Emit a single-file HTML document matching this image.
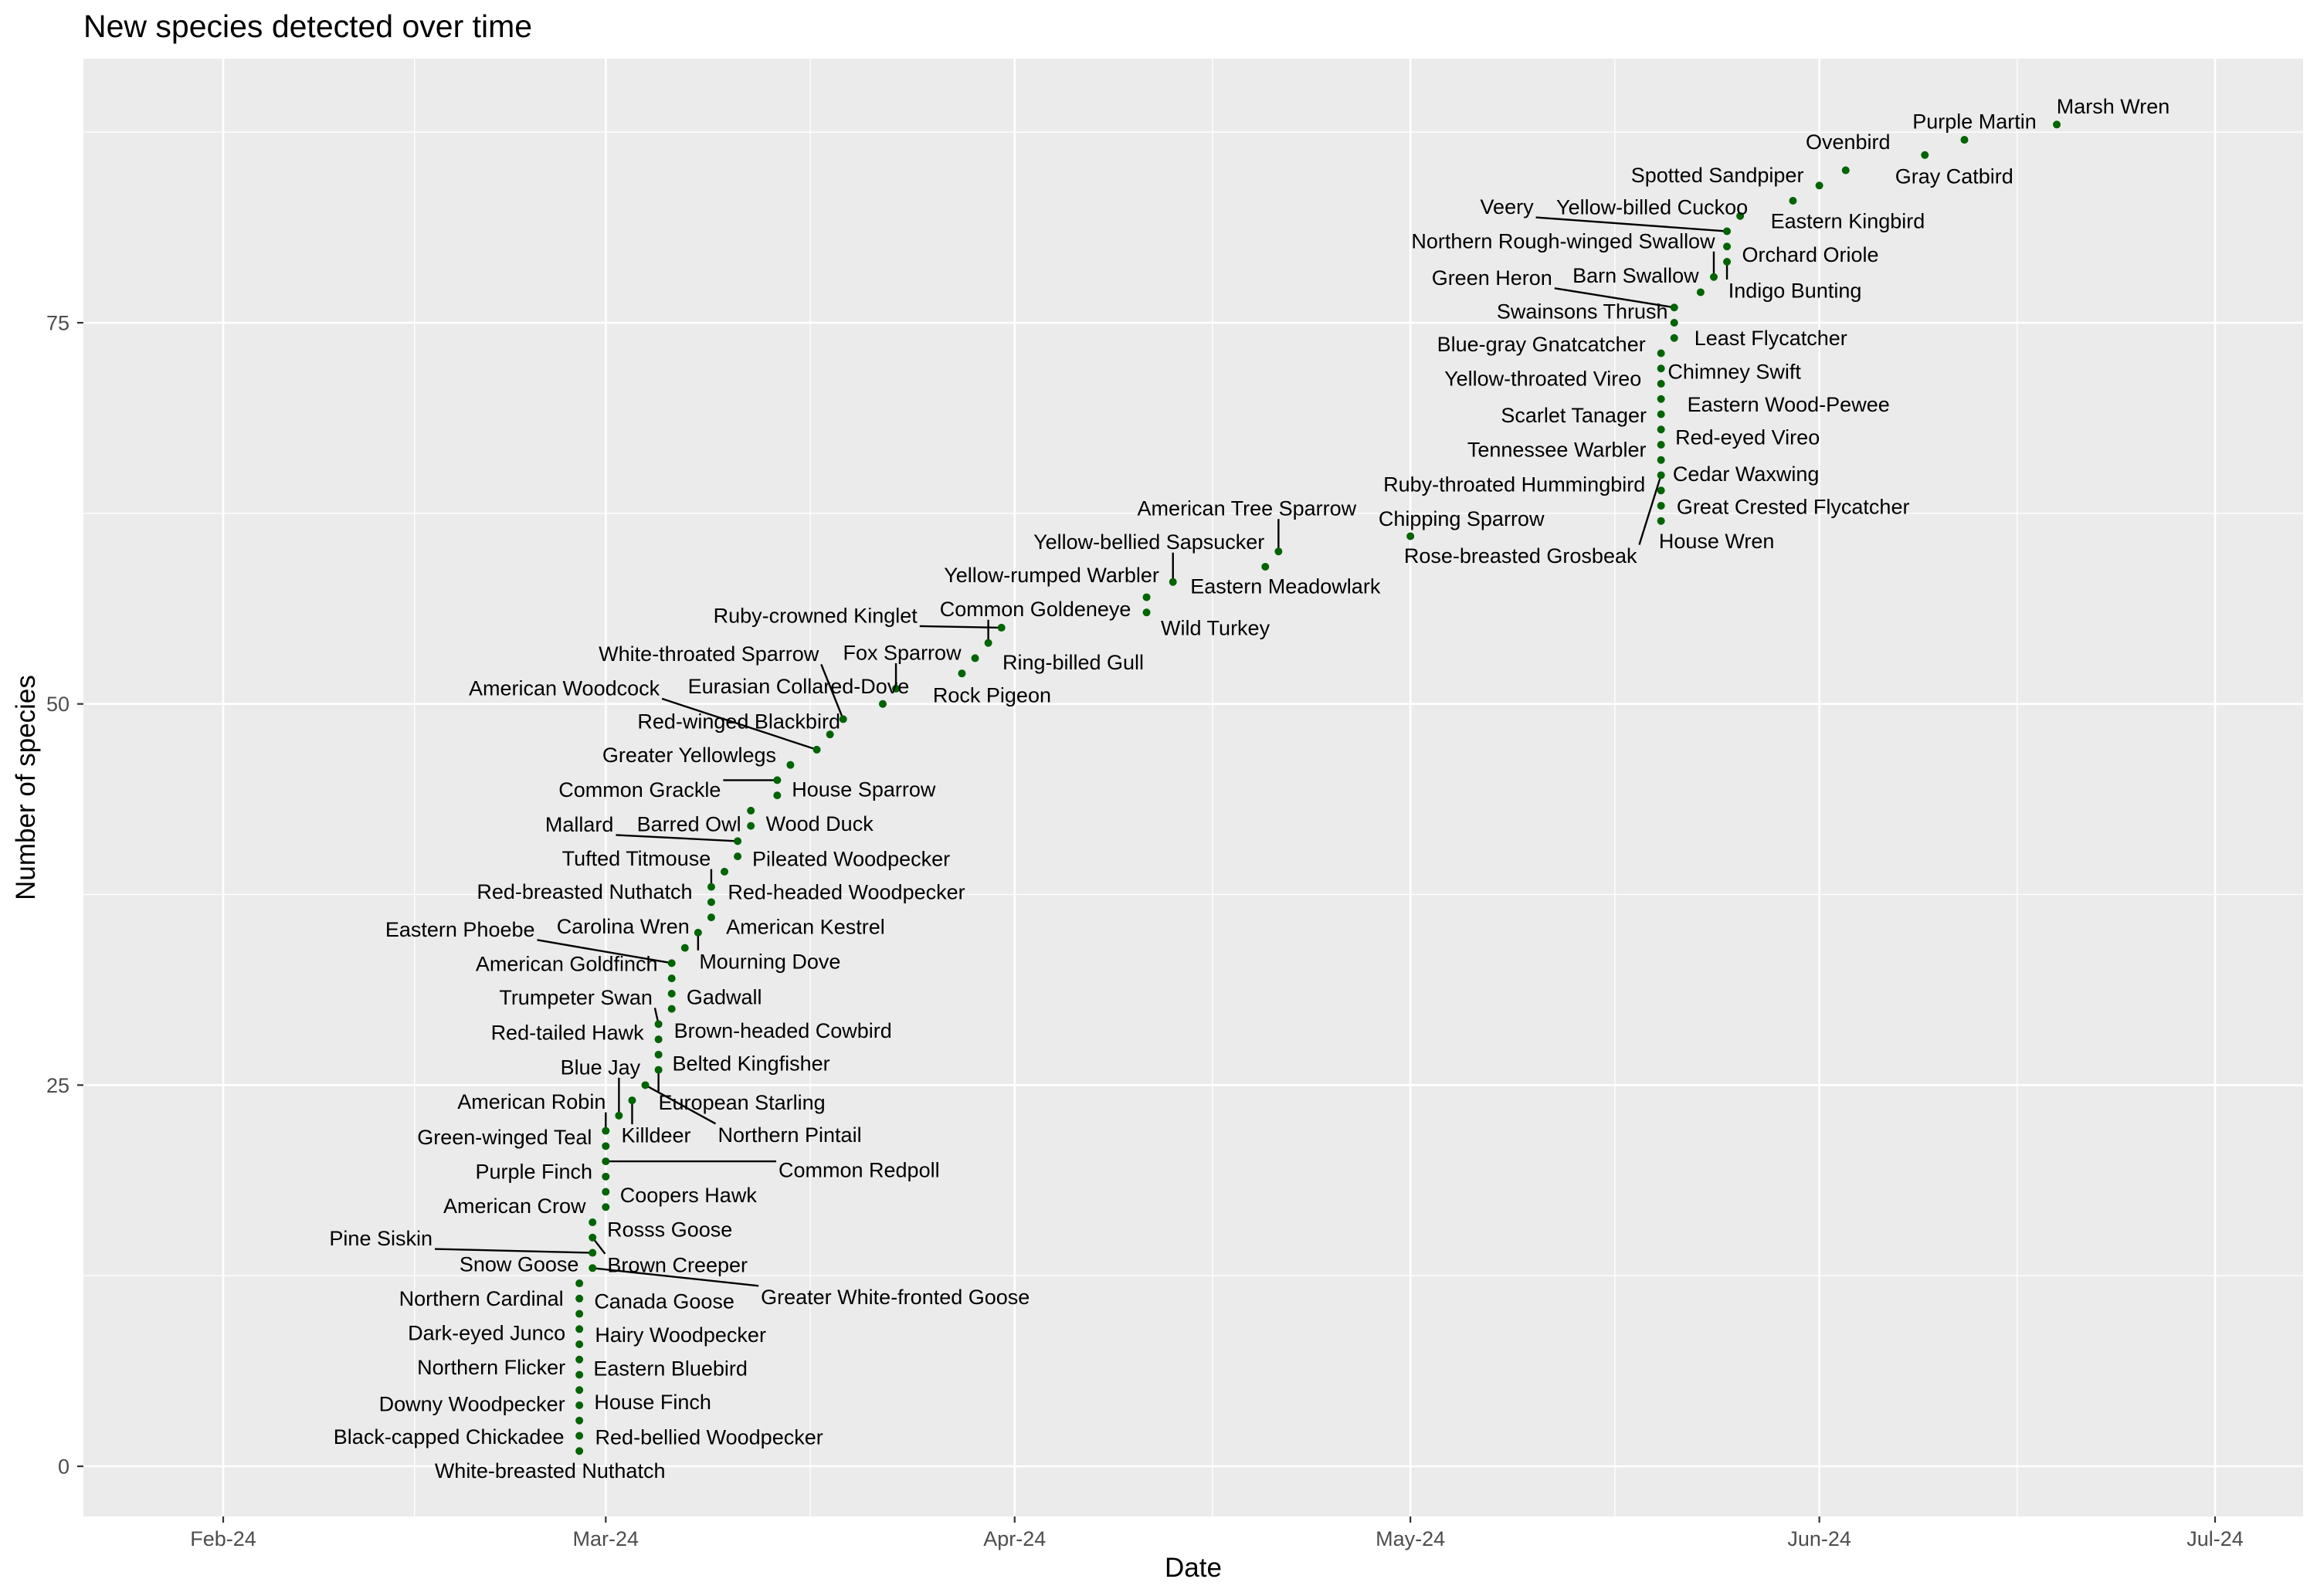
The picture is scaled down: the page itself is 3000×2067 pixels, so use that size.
<!DOCTYPE html>
<html><head><meta charset="utf-8">
<style>
html,body{margin:0;padding:0;background:#fff;}
svg{display:block;font-family:"Liberation Sans",Arial,sans-serif;}
</style></head>
<body>
<svg id="chart" width="3000" height="2067" viewBox="0 0 3000 2067" xmlns="http://www.w3.org/2000/svg">
<rect x="0" y="0" width="3000" height="2067" fill="#ffffff"/>
<text x="108" y="48" font-size="41" fill="#000">New species detected over time</text>
<rect x="108" y="76" width="2874" height="1888" fill="#EBEBEB"/>
<g id="grid"></g>
<g id="segs"></g>
<g id="pts"></g>
<g id="labs"></g>
<g id="axes"></g>
<text x="1545" y="2042" font-size="35" text-anchor="middle" fill="#000">Date</text>
<text transform="translate(45,1020) rotate(-90)" font-size="35" text-anchor="middle" fill="#000">Number of species</text>
</svg>
<script>
// ---- data ----
const species = ["White-breasted Nuthatch","Black-capped Chickadee","Red-bellied Woodpecker","Downy Woodpecker","House Finch","Northern Flicker","Eastern Bluebird","Dark-eyed Junco","Hairy Woodpecker","Northern Cardinal","Canada Goose","Snow Goose","Greater White-fronted Goose","Pine Siskin","Brown Creeper","Rosss Goose","American Crow","Coopers Hawk","Purple Finch","Common Redpoll","Green-winged Teal","American Robin","Blue Jay","Killdeer","Northern Pintail","European Starling","Belted Kingfisher","Red-tailed Hawk","Trumpeter Swan","Brown-headed Cowbird","Gadwall","American Goldfinch","Eastern Phoebe","Carolina Wren","Mourning Dove","American Kestrel","Red-breasted Nuthatch","Tufted Titmouse","Red-headed Woodpecker","Pileated Woodpecker","Mallard","Wood Duck","Barred Owl","House Sparrow","Common Grackle","Greater Yellowlegs","American Woodcock","Red-winged Blackbird","White-throated Sparrow","Eurasian Collared-Dove","Fox Sparrow","Rock Pigeon","Ring-billed Gull","Common Goldeneye","Ruby-crowned Kinglet","Wild Turkey","Yellow-rumped Warbler","Yellow-bellied Sapsucker","Eastern Meadowlark","American Tree Sparrow","Chipping Sparrow","House Wren","Great Crested Flycatcher","Ruby-throated Hummingbird","Rose-breasted Grosbeak","Cedar Waxwing","Tennessee Warbler","Red-eyed Vireo","Scarlet Tanager","Eastern Wood-Pewee","Yellow-throated Vireo","Chimney Swift","Blue-gray Gnatcatcher","Least Flycatcher","Swainsons Thrush","Green Heron","Barn Swallow","Northern Rough-winged Swallow","Indigo Bunting","Orchard Oriole","Veery","Yellow-billed Cuckoo","Eastern Kingbird","Spotted Sandpiper","Ovenbird","Gray Catbird","Purple Martin","Marsh Wren"];
const firstSeen = ["2024-02-28","2024-02-28","2024-02-28","2024-02-28","2024-02-28","2024-02-28","2024-02-28","2024-02-28","2024-02-28","2024-02-28","2024-02-28","2024-02-28","2024-02-29","2024-02-29","2024-02-29","2024-02-29","2024-03-01","2024-03-01","2024-03-01","2024-03-01","2024-03-01","2024-03-01","2024-03-02","2024-03-03","2024-03-04","2024-03-05","2024-03-05","2024-03-05","2024-03-05","2024-03-06","2024-03-06","2024-03-06","2024-03-06","2024-03-07","2024-03-08","2024-03-09","2024-03-09","2024-03-09","2024-03-10","2024-03-11","2024-03-11","2024-03-12","2024-03-12","2024-03-14","2024-03-14","2024-03-15","2024-03-17","2024-03-18","2024-03-19","2024-03-22","2024-03-23","2024-03-28","2024-03-29","2024-03-30","2024-03-31","2024-04-11","2024-04-11","2024-04-13","2024-04-20","2024-04-21","2024-05-01","2024-05-20","2024-05-20","2024-05-20","2024-05-20","2024-05-20","2024-05-20","2024-05-20","2024-05-20","2024-05-20","2024-05-20","2024-05-20","2024-05-20","2024-05-21","2024-05-21","2024-05-21","2024-05-23","2024-05-24","2024-05-25","2024-05-25","2024-05-25","2024-05-26","2024-05-30","2024-06-01","2024-06-03","2024-06-09","2024-06-12","2024-06-19"];
const speciesCount = [1,2,3,4,5,6,7,8,9,10,11,12,13,14,15,16,17,18,19,20,21,22,23,24,25,26,27,28,29,30,31,32,33,34,35,36,37,38,39,40,41,42,43,44,45,46,47,48,49,50,51,52,53,54,55,56,57,58,59,60,61,62,63,64,65,66,67,68,69,70,71,72,73,74,75,76,77,78,79,80,81,82,83,84,85,86,87,88];
const xTickLabels = ["Feb-24","Mar-24","Apr-24","May-24","Jun-24","Jul-24"];
const xTickDates = ["2024-02-01","2024-03-01","2024-04-01","2024-05-01","2024-06-01","2024-07-01"];
const yTickValues = [0,25,50,75];

// ---- layout (label offsets from point, px; s=1 draws a leader segment) ----
const labelLayout = [[-38,25,0],[-169,1,0],[168,21,0],[-139,-2,0],[95,15,0],[-114,-10,0],[118,11,0],[-120,-15,0],[131,7,0],[-127,-20,0],[110,3,0],[-78,-25,0],[392,37,1],[-274,-19,1],[110,35,1],[100,9,0],[-118,-2,0],[107,4,0],[-93,-7,0],[328,11,1],[-131,-12,0],[-96,-38,1],[-24,-63,1],[31,45,1],[187,64,1],[108,42,1],[120,11,0],[-118,-9,0],[-107,-35,1],[144,28,0],[68,4,0],[-136,-19,0],[-274,-44,1],[-80,-28,0],[93,37,1],[122,12,0],[-164,-14,0],[-97,-37,1],[158,26,0],[147,3,0],[-205,-22,1],[89,-3,0],[-80,17,0],[112,-8,0],[-178,12,1],[-131,-13,0],[-327,-80,1],[-118,-17,0],[-174,-85,1],[-109,-23,0],[8,-47,1],[39,28,0],[127,5,0],[61,-44,1],[-241,-16,1],[89,20,0],[-123,-29,0],[-31,-52,1],[26,25,0],[-41,-56,1],[66,-23,0],[72,26,0],[171,1,0],[-190,-8,0],[-182,104,1],[110,18,0],[-135,6,0],[112,10,0],[-113,1,0],[165,7,0],[-153,-7,0],[95,4,0],[-155,-12,0],[125,0,0],[-119,-15,0],[-236,-39,1],[-84,-22,0],[-195,-47,1],[88,37,1],[108,10,0],[-285,-32,1],[-114,-12,0],[71,26,0],[-132,-14,0],[3,-37,0],[38,27,0],[13,-24,0],[73,-24,0]];

const NS="http://www.w3.org/2000/svg";
const PL=108,PT=76,PR=2982,PB=1964;
const DAY=86400000, D0=Date.UTC(2024,1,1);
function dnum(s){const p=s.split('-');return (Date.UTC(+p[0],+p[1]-1,+p[2])-D0)/DAY;}
function xScale(s){return 289 + dnum(s)*(2868-289)/151;}
function yScale(v){return 1899 - v*(1899-418)/75;}
function mk(tag,attrs,parent){const e=document.createElementNS(NS,tag);for(const k in attrs)e.setAttribute(k,attrs[k]);parent.appendChild(e);return e;}

const grid=document.getElementById('grid');
// minor gridlines
for(let i=0;i<xTickDates.length-1;i++){
  const xm=(xScale(xTickDates[i])+xScale(xTickDates[i+1]))/2;
  const l=mk('line',{x1:xm,x2:xm,y1:PT,y2:PB,stroke:'#fff','stroke-width':1.3},grid);
  
  
}
for(let i=0;i<yTickValues.length;i++){
  const ym=yScale(yTickValues[i]+12.5);
  if(ym<PT)continue;
  const l=mk('line',{x1:PL,x2:PR,y1:ym,y2:ym,stroke:'#fff','stroke-width':1.3},grid);
  
  
}
const axes=document.getElementById('axes');
xTickDates.forEach((d,i)=>{
  const x=xScale(d);
  const g=mk('line',{x1:x,x2:x,y1:PT,y2:PB,stroke:'#fff','stroke-width':2.6},grid);
  
  
  const t=mk('line',{x1:x,x2:x,y1:PB,y2:PB+8,stroke:'#333','stroke-width':2.2},axes);
  
  
  const tx=mk('text',{x:x,y:2002,'font-size':27,fill:'#4d4d4d','text-anchor':'middle'},axes);
  tx.textContent=xTickLabels[i];
  
  
});
yTickValues.forEach(v=>{
  const y=yScale(v);
  const g=mk('line',{x1:PL,x2:PR,y1:y,y2:y,stroke:'#fff','stroke-width':2.6},grid);
  
  
  const t=mk('line',{x1:PL-8,x2:PL,y1:y,y2:y,stroke:'#333','stroke-width':2.2},axes);
  
  
  const tx=mk('text',{x:90,y:y+9.5,'font-size':27,fill:'#4d4d4d','text-anchor':'end'},axes);
  tx.textContent=String(v);
  
  
});

const pts=document.getElementById('pts'),labs=document.getElementById('labs'),segs=document.getElementById('segs');
species.forEach((name,i)=>{
  const px=xScale(firstSeen[i]), py=yScale(speciesCount[i]);
  const c=mk('circle',{cx:px,cy:py,r:5,fill:'#006400'},pts);
  
  
  const L=labelLayout[i];
  const lx=px+L[0], ly=py+L[1];
  const t=mk('text',{x:lx,y:ly+9.5,'font-size':27,fill:'#000','text-anchor':'middle'},labs);
  t.textContent=name;
  
  
  if(L[2]){
    const w=t.getComputedTextLength();
    const hw=w/2+3, hh=14;
    const ex=Math.max(lx-hw,Math.min(px,lx+hw));
    const ey=Math.max(ly-hh,Math.min(py,ly+hh));
    const s=mk('line',{x1:px,y1:py,x2:ex,y2:ey,stroke:'#000','stroke-width':2.4},segs);
    
    
  }
});
</script>
</body></html>
